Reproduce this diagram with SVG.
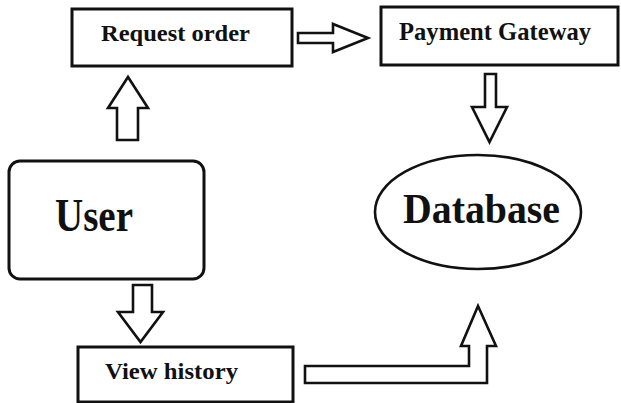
<svg xmlns="http://www.w3.org/2000/svg" width="621" height="403" viewBox="0 0 621 403">
<style>
.box{fill:#fff;stroke:#111;stroke-width:3}
.arr{fill:#fff;stroke:#111;stroke-width:2.6;stroke-linejoin:miter}
.t{font-family:"Liberation Serif","Times New Roman",serif;font-weight:bold;fill:#111}
</style>
<rect width="621" height="403" fill="#fff"/>
<g id="connectors">
<polygon class="arr" points="298,33 333,33 333,24 368,38 333,52 333,43 298,43"/>
<polygon class="arr" points="117,140 117,108 108,108 128,77 148,108 138,108 138,140"/>
<polygon class="arr" points="485,74 496,74 496,107 507,107 489.5,142 472,107 485,107"/>
<polygon class="arr" points="133,285 152,285 152,312 163,312 140.5,342 118,312 133,312"/>
<polygon class="arr" points="305,366 469,366 469,346 461,346 478,306 496,346 487,346 487,383 305,383"/>
</g>
<g id="request-order">
<rect class="box" x="72" y="9" width="220" height="57"/>
<text class="t" x="101" y="41" font-size="23" textLength="149" lengthAdjust="spacingAndGlyphs">Request order</text>
</g>
<g id="payment-gateway">
<rect class="box" x="381" y="7" width="237" height="58"/>
<text class="t" x="399" y="40" font-size="25" textLength="192" lengthAdjust="spacingAndGlyphs">Payment Gateway</text>
</g>
<g id="user">
<rect class="box" x="9" y="161" width="195" height="118" rx="11" ry="11"/>
<text class="t" x="55" y="231" font-size="46" textLength="78" lengthAdjust="spacingAndGlyphs">User</text>
</g>
<g id="database">
<ellipse cx="478" cy="212" rx="103" ry="57" fill="#fff" stroke="#111" stroke-width="2.6"/>
<text class="t" x="403" y="223" font-size="43" textLength="157" lengthAdjust="spacingAndGlyphs">Database</text>
</g>
<g id="view-history">
<rect class="box" x="78" y="347" width="215" height="55"/>
<text class="t" x="105" y="379" font-size="23.5" textLength="133" lengthAdjust="spacingAndGlyphs">View history</text>
</g>
</svg>
